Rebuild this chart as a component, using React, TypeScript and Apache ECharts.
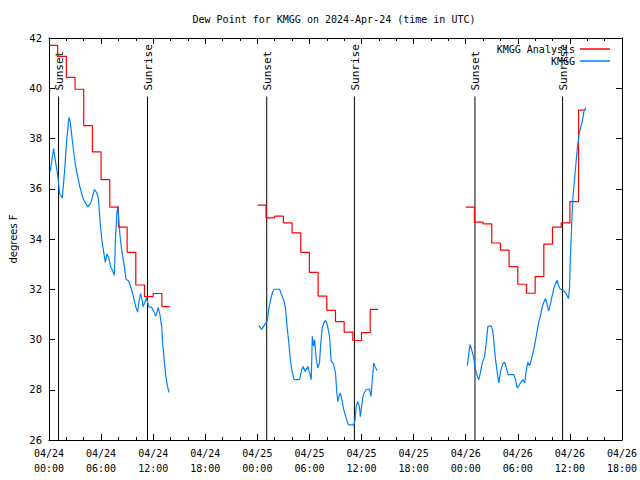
import React, { useEffect, useRef } from "react";
import * as echarts from "echarts";

const TITLE = "Dew Point for KMGG on 2024-Apr-24 (time in UTC)";
const Y_NAME = "degrees F";
const SERIES_ANALYSIS = "KMGG Analysis";
const SERIES_OBS = "KMGG";

// x ticks every 6 hours from 2024-04-24 00:00 UTC
const X_TICK_LABELS = [
  "04/24\n00:00", "04/24\n06:00", "04/24\n12:00", "04/24\n18:00",
  "04/25\n00:00", "04/25\n06:00", "04/25\n12:00", "04/25\n18:00",
  "04/26\n00:00", "04/26\n06:00", "04/26\n12:00", "04/26\n18:00",
];

// Sunset / sunrise times (hours since 2024-04-24 00:00 UTC)
const SUN_HOURS = [1.1, 11.35, 25.08, 35.18, 49.07, 59.16];
const SUN_LABELS = ["Sunset", "Sunrise", "Sunset", "Sunrise", "Sunset", "Sunrise"];

// Hourly analysis (hours since 2024-04-24 00:00 UTC)
const AN_HOURS_1 = [0, 1, 2, 3, 4, 5, 6, 7, 8, 9, 10, 11, 12, 13, 13.9];
const AN_DEW_1 = [41.71, 41.27, 40.43, 39.96, 38.51, 37.47, 36.36, 35.27, 34.47, 33.47, 32.17, 31.71, 31.83, 31.31, 31.31];
const AN_HOURS_2 = [24, 25, 26, 27, 28, 29, 30, 31, 32, 33, 34, 35, 36, 37, 37.9];
const AN_DEW_2 = [35.35, 34.84, 34.91, 34.64, 34.24, 33.47, 32.67, 31.73, 31.16, 30.71, 30.29, 29.96, 30.27, 31.2, 31.2];
const AN_HOURS_3 = [48, 49, 50, 51, 52, 53, 54, 55, 56, 57, 58, 59, 60, 61, 61.8];
const AN_DEW_3 = [35.27, 34.67, 34.6, 33.84, 33.56, 32.9, 32.2, 31.84, 32.5, 33.8, 34.47, 34.64, 35.49, 39.13, 39.13];

// Observations
const OBS_HOURS_1 = [0.15, 0.53, 0.76, 1.03, 1.22, 1.53, 1.79, 1.99, 2.29, 2.44, 2.75, 3.05, 3.51, 3.97, 4.48, 4.85, 5.23, 5.51, 5.69, 5.92, 6.12, 6.27, 6.49, 6.66, 6.88, 7.07, 7.34, 7.53, 7.64, 7.8, 7.92, 8.03, 8.18, 8.41, 8.67, 8.87, 9.18, 9.44, 9.71, 10.02, 10.21, 10.4, 10.56, 10.71, 10.85, 11.05, 11.24, 11.47, 11.85, 12.12, 12.31, 12.58, 12.77, 13.0, 13.08, 13.26, 13.46, 13.65, 13.84];
const OBS_DEW_1 = [36.71, 37.6, 37.07, 36.47, 35.8, 35.63, 36.67, 37.73, 38.84, 38.67, 37.73, 36.93, 36.13, 35.57, 35.27, 35.47, 35.97, 35.84, 35.6, 34.53, 33.87, 33.53, 33.07, 33.4, 33.27, 32.93, 32.73, 32.56, 33.87, 34.93, 35.31, 34.8, 34.13, 33.47, 32.93, 32.4, 32.33, 32.07, 31.73, 31.27, 31.09, 31.6, 31.83, 31.6, 31.31, 31.49, 31.67, 31.31, 31.27, 31.07, 30.93, 31.27, 31.0, 30.47, 29.87, 29.2, 28.53, 28.13, 27.89];
const OBS_HOURS_2 = [24.17, 24.48, 24.93, 25.13, 25.31, 25.54, 25.74, 25.93, 26.57, 26.77, 27.08, 27.23, 27.46, 27.61, 27.8, 28.0, 28.23, 28.87, 29.06, 29.26, 29.52, 29.83, 30.02, 30.21, 30.33, 30.48, 30.59, 30.79, 30.98, 31.16, 31.28, 31.47, 31.67, 31.85, 32.05, 32.31, 32.51, 32.77, 33.0, 33.16, 33.28, 33.39, 33.57, 33.74, 33.96, 34.23, 34.49, 35.11, 35.26, 35.38, 35.57, 35.75, 35.87, 36.03, 36.21, 36.52, 36.9, 37.1, 37.21, 37.41, 37.56, 37.79];
const OBS_DEW_2 = [30.56, 30.4, 30.63, 30.73, 31.2, 31.6, 31.87, 32.0, 32.0, 31.8, 31.53, 31.27, 30.4, 29.93, 29.2, 28.73, 28.4, 28.4, 28.73, 28.93, 28.73, 28.93, 28.67, 28.4, 30.13, 29.73, 30.0, 29.2, 28.87, 29.07, 29.73, 30.47, 30.67, 30.76, 30.6, 30.13, 29.13, 29.04, 28.67, 27.87, 27.53, 27.73, 27.87, 27.6, 27.2, 26.87, 26.6, 26.6, 26.8, 27.33, 27.53, 27.33, 26.93, 27.4, 27.8, 28.0, 28.03, 27.73, 28.27, 29.07, 28.93, 28.76];
const OBS_HOURS_3 = [48.19, 48.38, 48.49, 48.69, 48.88, 49.03, 49.14, 49.34, 49.52, 49.72, 49.91, 50.18, 50.37, 50.56, 50.95, 51.13, 51.25, 51.44, 51.64, 51.82, 52.01, 52.28, 52.51, 52.7, 52.9, 53.54, 53.74, 53.93, 54.19, 54.39, 54.62, 54.8, 54.96, 55.15, 55.38, 55.65, 55.84, 56.03, 56.23, 56.41, 56.6, 56.8, 56.98, 57.21, 57.37, 57.56, 57.75, 57.95, 58.13, 58.32, 58.52, 58.7, 58.9, 59.21, 59.47, 59.74, 59.85, 59.97, 60.05, 60.17, 60.31, 60.48, 60.68, 60.86, 61.05, 61.25, 61.43, 61.62, 61.82];
const OBS_DEW_3 = [28.96, 29.47, 29.8, 29.6, 29.33, 29.04, 28.8, 28.53, 28.4, 28.73, 29.07, 29.33, 29.87, 30.53, 30.53, 30.33, 29.87, 29.2, 28.67, 28.27, 28.73, 29.04, 29.09, 28.83, 28.6, 28.6, 28.4, 28.07, 28.2, 28.33, 28.4, 28.27, 28.73, 29.09, 28.96, 29.33, 29.6, 29.93, 30.33, 30.67, 30.93, 31.27, 31.47, 31.63, 31.4, 31.13, 31.4, 31.73, 32.0, 32.2, 32.36, 32.16, 32.0, 31.97, 31.87, 31.71, 31.63, 32.13, 33.2, 34.2, 35.47, 36.13, 36.93, 37.6, 38.13, 38.47, 38.67, 39.07, 39.23];

const X_MIN = 0;
const X_MAX = 66;
const Y_MIN = 26;
const Y_MAX = 42;
const SUN_LINE_TOP = 39.67;

const MONO = '"DejaVu Sans Mono", monospace';
const SANS = '"DejaVu Sans", sans-serif';
const RED = "#ff0000";
const BLUE = "#0080ff";

const zip = (xs: number[], ys: number[]) => xs.map((x, i) => [x, ys[i]]);

const black = { color: "#000", width: 1 };

function buildOption(): any {
  const xBase = (position: string, labels: boolean) => ({
    type: "value",
    min: X_MIN,
    max: X_MAX,
    interval: 6,
    position,
    axisLine: { show: true, onZero: false, lineStyle: black },
    axisTick: { show: true, inside: true, length: 6, lineStyle: black },
    minorTick: { show: true, splitNumber: 3, length: 3, lineStyle: black },
    splitLine: { show: false },
    minorSplitLine: { show: false },
    axisLabel: labels
      ? {
          formatter: (v: number) => X_TICK_LABELS[Math.round(v / 6)] ?? "",
          fontFamily: MONO,
          fontSize: 10,
          color: "#000",
          lineHeight: 15,
          margin: 6,
        }
      : { show: false },
  });
  const yBase = (position: string, labels: boolean) => ({
    type: "value",
    min: Y_MIN,
    max: Y_MAX,
    interval: 2,
    position,
    axisLine: { show: true, onZero: false, lineStyle: black },
    axisTick: { show: true, inside: true, length: 6, lineStyle: black },
    splitLine: { show: false },
    axisLabel: labels
      ? { fontFamily: SANS, fontSize: 10, color: "#000", margin: 7 }
      : { show: false },
  });

  const legendBase = {
    right: 30,
    orient: "horizontal",
    align: "right",
    icon: "rect",
    itemWidth: 30,
    itemHeight: 1.5,
    itemGap: 0,
    padding: 0,
    selectedMode: false,
    textStyle: { fontFamily: MONO, fontSize: 10, color: "#000" },
  };

  const anSeries = [AN_HOURS_1, AN_HOURS_2, AN_HOURS_3].map((hs, i) => ({
    type: "line",
    name: SERIES_ANALYSIS,
    step: "end",
    symbol: "none",
    color: RED,
    lineStyle: { color: RED, width: 1.2 },
    data: zip(hs, [AN_DEW_1, AN_DEW_2, AN_DEW_3][i]),
    z: 3,
  }));
  const obsSeries = [OBS_HOURS_1, OBS_HOURS_2, OBS_HOURS_3].map((hs, i) => ({
    type: "line",
    name: SERIES_OBS,
    symbol: "none",
    color: BLUE,
    lineStyle: { color: BLUE, width: 1.2 },
    data: zip(hs, [OBS_DEW_1, OBS_DEW_2, OBS_DEW_3][i]),
    z: 4,
  }));

  const sunSeries = {
    type: "custom",
    name: "sun",
    silent: true,
    clip: false,
    z: 2,
    data: SUN_HOURS.map((h, i) => [h, i]),
    encode: { x: 0 },
    renderItem: (_params: any, api: any) => {
      const h = api.value(0);
      const idx = api.value(1);
      const top = api.coord([h, SUN_LINE_TOP]);
      const bot = api.coord([h, Y_MIN]);
      return {
        type: "group",
        children: [
          {
            type: "line",
            shape: { x1: top[0], y1: top[1], x2: bot[0], y2: bot[1] },
            style: { stroke: "#000", lineWidth: 1 },
          },
          {
            type: "text",
            x: top[0] + 1,
            y: top[1] - 6,
            rotation: Math.PI / 2,
            style: {
              text: SUN_LABELS[idx],
              fontFamily: MONO,
              fontSize: 11,
              fill: "#000",
              align: "left",
              verticalAlign: "middle",
            },
          },
        ],
      };
    },
  };

  return {
    animation: false,
    backgroundColor: "#fff",
    title: {
      text: TITLE,
      left: 334,
      top: 14,
      textAlign: "center",
      padding: 0,
      textStyle: { fontFamily: MONO, fontSize: 10, fontWeight: "normal", color: "#000" },
    },
    legend: [
      { ...legendBase, top: 44, data: [SERIES_ANALYSIS] },
      { ...legendBase, top: 56, data: [SERIES_OBS] },
    ],
    grid: { left: 46, right: 18, top: 38, bottom: 40, containLabel: false },
    xAxis: [xBase("bottom", true), xBase("top", false)],
    yAxis: [
      {
        ...yBase("left", true),
        name: Y_NAME,
        nameLocation: "middle",
        nameRotate: 90,
        nameGap: 31,
        nameTextStyle: { fontFamily: SANS, fontSize: 10, color: "#000" },
      },
      yBase("right", false),
    ],
    series: [sunSeries, ...anSeries, ...obsSeries],
  };
}

export default function App() {
  const ref = useRef<HTMLDivElement>(null);
  useEffect(() => {
    if (!ref.current) return;
    const chart = echarts.init(ref.current, null, { renderer: "svg" });
    chart.setOption(buildOption());
    return () => chart.dispose();
  }, []);
  return (
    <div
      ref={ref}
      style={{ position: "fixed", left: 0, top: 0, width: 640, height: 480, background: "#fff" }}
    />
  );
}
